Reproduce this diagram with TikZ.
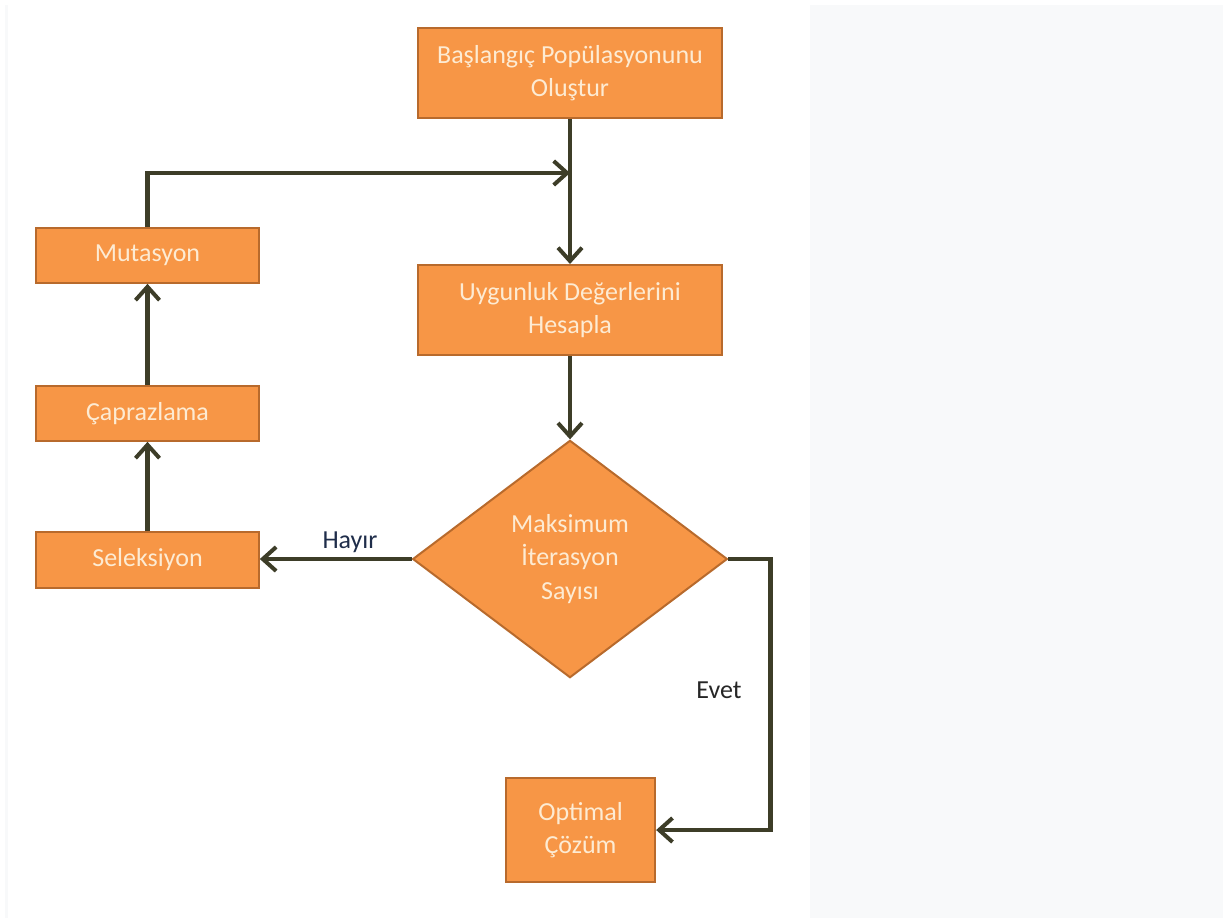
\documentclass[tikz,border=0pt]{standalone}
\usepackage{fontspec}
\setmainfont{Carlito}
\usetikzlibrary{arrows.meta,shapes.geometric}
\definecolor{boxfill}{HTML}{F79646}
\definecolor{boxline}{HTML}{B86A2C}
\definecolor{boxtext}{HTML}{FDEBD3}
\definecolor{arrowc}{HTML}{3D3D28}
\definecolor{panel}{HTML}{F8F9FA}
\definecolor{navy}{HTML}{1F2D4A}
\tikzset{
  box/.style={draw=boxline, line width=1.5pt, fill=boxfill, text=boxtext,
    font=\fontsize{19.5}{25}\selectfont, align=center, inner sep=0pt},
  decision/.style={diamond, draw=boxline, line width=1.5pt, fill=boxfill, text=boxtext,
    font=\fontsize{19.5}{25}\selectfont, align=center, inner sep=0pt,
    minimum width=236pt, minimum height=178pt},
  flow/.style={draw=arrowc, line width=3.6pt,
    -{Straight Barb[length=10pt,width=18pt,line width=3pt]}},
  lbl/.style={font=\fontsize{19.5}{25}\selectfont, inner sep=0pt}
}
\begin{document}
\begin{tikzpicture}[x=0.75pt,y=-0.75pt]
\useasboundingbox (0,0) rectangle (1223,918);
\fill[white] (0,0) rectangle (1223,918);
\fill[panel] (810,5) rectangle (1223,918);
\fill[panel] (5,5) rectangle (8,918);

\node[box, minimum width=228pt, minimum height=67.5pt] (start) at (570,73) {Başlangıç Popülasyonunu\\Oluştur};
\node[box, minimum width=228pt, minimum height=67.5pt] (fit) at (570,310) {Uygunluk Değerlerini\\Hesapla};
\node[decision] (dec) at (570,559) {Maksimum\\İterasyon\\Sayısı};
\node[box, minimum width=167pt, minimum height=41pt] (mut) at (147.5,255.5) {Mutasyon};
\node[box, minimum width=167pt, minimum height=41pt] (cap) at (147.5,413.5) {Çaprazlama};
\node[box, minimum width=167pt, minimum height=42pt] (sel) at (147.5,560) {Seleksiyon};
\node[box, minimum width=112pt, minimum height=78pt] (opt) at (580.5,830) {Optimal\\Çözüm};

\coordinate (join) at (570,173);

\draw[flow] (start.south) -- (fit.north);
\draw[flow] (fit.south) -- (dec.north);
\draw[flow] (mut.north) |- (join);
\draw[flow] (cap.north) -- (mut.south);
\draw[flow] (sel.north) -- (cap.south);
\draw[flow] (dec.west) -- (dec.west -| sel.east);
\draw[flow] (dec.east) -- ++(42,0) |- (opt.east);

\node[lbl, text=navy] (hayir) at (350,542) {Hayır};
\node[lbl, text=black!85] (evet) at (719,690) {Evet};
\end{tikzpicture}
\end{document}
